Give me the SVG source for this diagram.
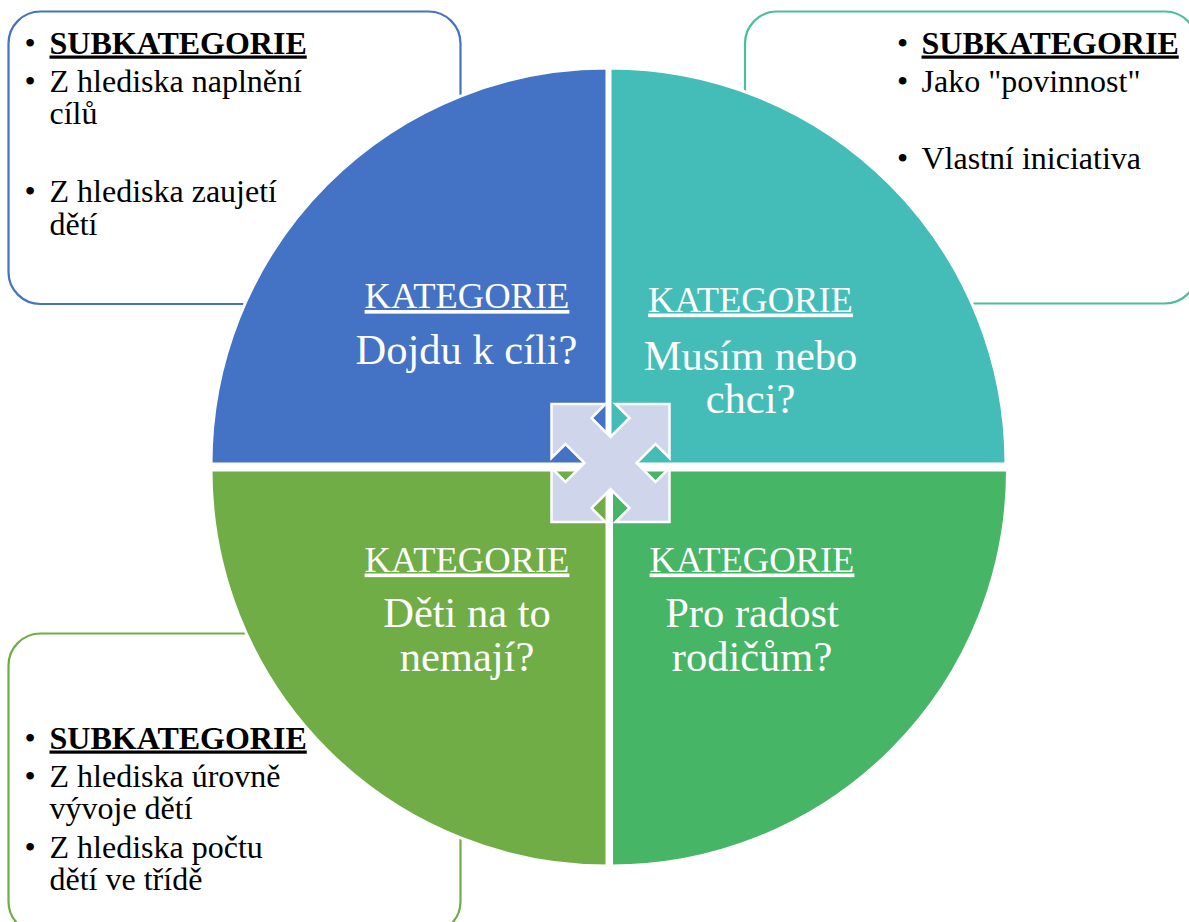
<svg xmlns="http://www.w3.org/2000/svg" width="1189" height="922" viewBox="0 0 1189 922">
<style>
  .box { fill: #FFFFFF; stroke-width: 2.2; }
  .quad { stroke: #FFFFFF; stroke-width: 3; }
  .sub { font-size: 32px; fill: #000000; }
  .subh { font-weight: bold; text-decoration: underline; }
  .kat { font-size: 36.5px; fill: #FFFFFF; text-anchor: middle; text-decoration: underline; }
  .q { font-size: 42.5px; fill: #FFFFFF; text-anchor: middle; }
</style>
<rect x="0" y="0" width="1189" height="922" fill="#FFFFFF"/>

<g id="box-top-left" font-family="'Liberation Serif', 'Times New Roman', serif">
  <rect class="box" x="8.5" y="11.5" width="452" height="292.5" rx="32" ry="32" stroke="#4472C4"/>
  <text class="sub" x="24.5" y="53.5">•</text>
  <text class="sub subh" x="49.5" y="53.5">SUBKATEGORIE</text>
  <text class="sub" x="24.5" y="91.5">•</text>
  <text class="sub" x="49.5" y="91.5">Z hlediska naplnění</text>
  <text class="sub" x="49.5" y="124">cílů</text>
  <text class="sub" x="24.5" y="201.5">•</text>
  <text class="sub" x="49.5" y="201.5">Z hlediska zaujetí</text>
  <text class="sub" x="49.5" y="234.5">dětí</text>
</g>

<g id="box-top-right" font-family="'Liberation Serif', 'Times New Roman', serif">
  <rect class="box" x="745" y="11.5" width="452" height="292" rx="32" ry="32" stroke="#4CBE98"/>
  <text class="sub" x="897" y="53.5">•</text>
  <text class="sub subh" x="921.5" y="53.5">SUBKATEGORIE</text>
  <text class="sub" x="897" y="91.5">•</text>
  <text class="sub" x="921.5" y="91.5">Jako "povinnost"</text>
  <text class="sub" x="897" y="168.5">•</text>
  <text class="sub" x="921.5" y="168.5">Vlastní iniciativa</text>
</g>

<g id="box-bottom-left" font-family="'Liberation Serif', 'Times New Roman', serif">
  <rect class="box" x="8.5" y="633.5" width="452" height="300" rx="32" ry="32" stroke="#70AD47"/>
  <text class="sub" x="24.5" y="748.5">•</text>
  <text class="sub subh" x="49.5" y="748.5">SUBKATEGORIE</text>
  <text class="sub" x="24.5" y="786.5">•</text>
  <text class="sub" x="49.5" y="786.5">Z hlediska úrovně</text>
  <text class="sub" x="49.5" y="819">vývoje dětí</text>
  <text class="sub" x="24.5" y="857.5">•</text>
  <text class="sub" x="49.5" y="857.5">Z hlediska počtu</text>
  <text class="sub" x="49.5" y="889.5">dětí ve třídě</text>
</g>

<g id="quadrant-top-left" font-family="'Liberation Serif', 'Times New Roman', serif">
  <path class="quad" fill="#4472C4" d="M 607 464 L 211 464 A 396 396 0 0 1 607 68 Z"/>
  <text class="kat" x="467" y="308">KATEGORIE</text>
  <text class="q" x="466.5" y="364">Dojdu k cíli?</text>
</g>

<g id="quadrant-top-right" font-family="'Liberation Serif', 'Times New Roman', serif">
  <path class="quad" fill="#44BDB8" d="M 610 464 L 610 68 A 396 396 0 0 1 1006 464 Z"/>
  <text class="kat" x="750.5" y="311.5">KATEGORIE</text>
  <text class="q" x="750.5" y="369.5">Musím nebo</text>
  <text class="q" x="750.5" y="413">chci?</text>
</g>

<g id="quadrant-bottom-left" font-family="'Liberation Serif', 'Times New Roman', serif">
  <path class="quad" fill="#70AD47" d="M 607 470 L 607 866 A 396 396 0 0 1 211 470 Z"/>
  <text class="kat" x="467" y="571.5">KATEGORIE</text>
  <text class="q" x="467" y="627">Děti na to</text>
  <text class="q" x="467" y="670.5">nemají?</text>
</g>

<g id="quadrant-bottom-right" font-family="'Liberation Serif', 'Times New Roman', serif">
  <path class="quad" fill="#46B565" d="M 611.5 470 L 1007.5 470 A 396 396 0 0 1 611.5 866 Z"/>
  <text class="kat" x="752" y="571.5">KATEGORIE</text>
  <text class="q" x="752" y="627">Pro radost</text>
  <text class="q" x="752" y="670.5">rodičům?</text>
</g>

<g id="center-arrows">
  <path fill="#CFD5EA" stroke="#FFFFFF" stroke-width="2.5" stroke-linejoin="miter"
    d="M 551.5 404 L 605.5 404 L 591.5 418 L 610.5 437 L 629.5 418 L 615.5 404 L 669.5 404 L 669.5 458 L 655.5 444 L 636.5 463 L 655.5 482 L 669.5 468 L 669.5 522 L 615.5 522 L 629.5 508 L 610.5 489 L 591.5 508 L 605.5 522 L 551.5 522 L 551.5 468 L 565.5 482 L 584.5 463 L 565.5 444 L 551.5 458 Z"/>
</g>

<g id="connectors"></g>
</svg>
